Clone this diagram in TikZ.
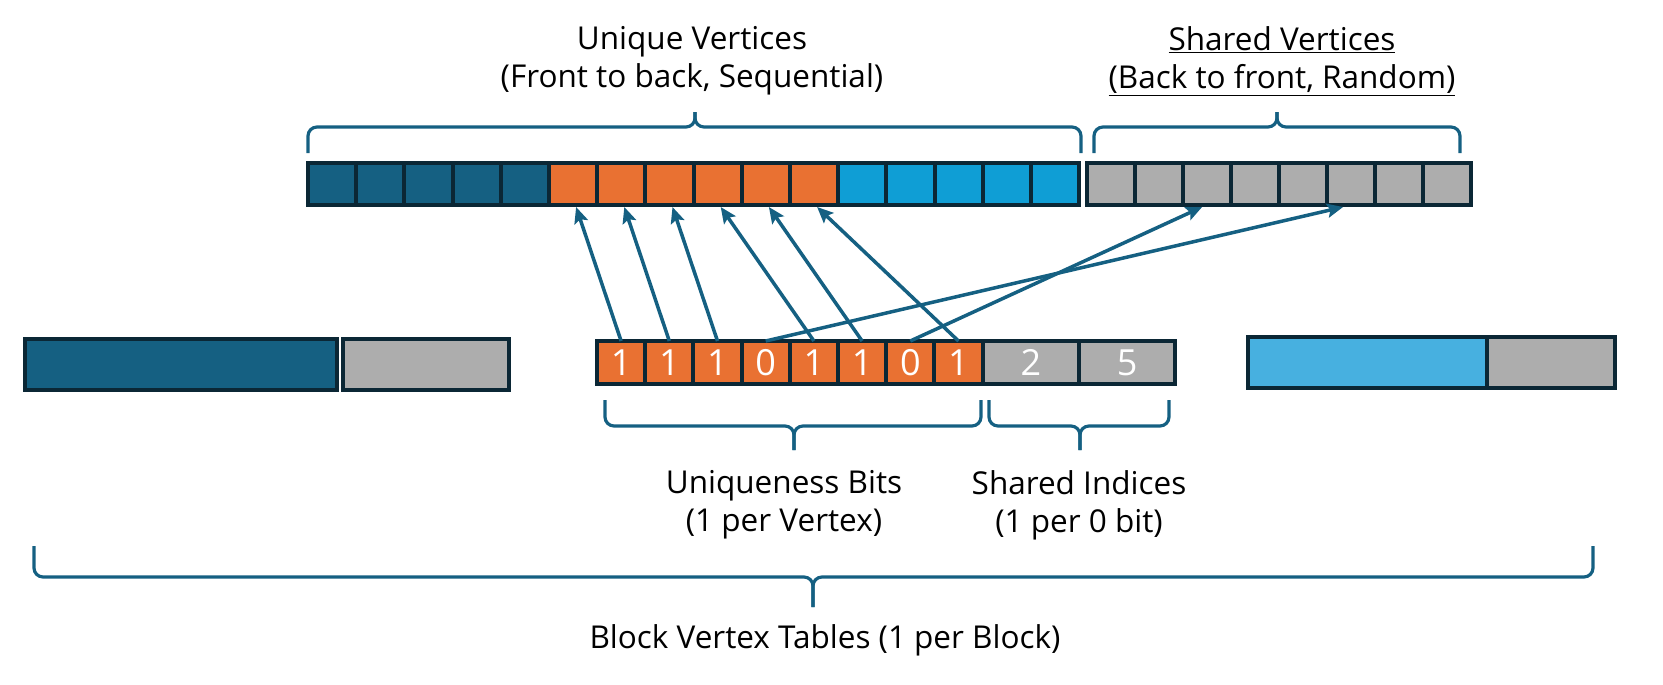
\documentclass[tikz,border=0pt]{standalone}
\usepackage{fontspec}
\setmainfont{Open Sans}
\usetikzlibrary{positioning,arrows.meta,calc}
\definecolor{cteal}{HTML}{156082}
\definecolor{corange}{HTML}{E97132}
\definecolor{csky}{HTML}{0F9ED5}
\definecolor{csky2}{HTML}{47B0E0}
\definecolor{cgray}{HTML}{ADADAD}
\definecolor{cline}{HTML}{0B2735}

\begin{document}
\begin{tikzpicture}[x=1pt, y=-1pt,
  every node/.style={inner sep=0pt, outer sep=0pt, font=\fontsize{31.5}{38}\selectfont},
  cellbox/.style={draw=cline, line width=4pt, minimum width=48.2pt, minimum height=42pt, anchor=north west},
  bitcell/.style={cellbox, minimum height=43pt, text=white, font=\fontsize{36}{40}\selectfont},
  blockbox/.style={draw=cline, line width=4pt, minimum height=51pt, anchor=north west},
  ptr/.style={draw=cteal, line width=3.5pt, -{Stealth[length=16pt,width=14pt,inset=3pt]}},
  bracepath/.style={draw=cteal, line width=3.2pt, rounded corners=9pt}]
  \useasboundingbox (0,0) rectangle (1663,685);

  % top row: unique vertices, then shared vertices
  \foreach \i in {0,...,15} {
    \ifnum\i<5 \def\fillcol{cteal}\else\ifnum\i<11 \def\fillcol{corange}\else\def\fillcol{csky}\fi\fi
    \node[cellbox, fill=\fillcol] (u\i) at ({308+48.2*\i},163) {};
  }
  \foreach \i in {0,...,7}
    \node[cellbox, fill=cgray] (s\i) at ({1087+48*\i},163) {};

  % one block vertex table: bits + shared indices
  \foreach \b [count=\i from 0] in {1,1,1,0,1,1,0,1}
    \node[bitcell, fill=corange] (b\i) at ({597+48.2*\i},341) {\b};
  \node[bitcell, fill=cgray, minimum width=96.4pt, right=0pt of b7] (x0) {2};
  \node[bitcell, fill=cgray, minimum width=96.4pt, right=0pt of x0] (x1) {5};

  % neighbouring tables
  \node[blockbox, fill=cteal, minimum width=312pt] (lblk) at (25,339) {};
  \node[blockbox, fill=cgray, minimum width=166pt] (lidx) at (343,339) {};
  \node[blockbox, fill=csky2, minimum width=238.5pt] (rblk) at (1248,337) {};
  \node[blockbox, fill=cgray, minimum width=128.5pt, right=0pt of rblk] (ridx) {};

  % pointers
  \foreach \s/\d in {0/5,1/6,2/7,4/8,5/9,7/10}
    \draw[ptr] (b\s.north) -- ([xshift=3pt,yshift=-2pt]u\d.south);
  \draw[ptr] (b3.north) -- ([xshift=-8pt,yshift=-2pt]s5.south);
  \draw[ptr] (b6.north) -- ([xshift=-5pt,yshift=-2pt]s2.south);

  % braces
  \foreach \lx/\rx/\mx/\ye/\yh/\yt in {308/1081/695/153/127/112, 1094/1460/1277/153/127/112,
      605/981/794/400/426/450, 989/1169/1080/400/426/450, 34/1593/813/546/577/607} {
    \draw[bracepath] (\lx,\ye) |- (\mx,\yh) -- (\mx,\yt);
    \draw[bracepath] (\rx,\ye) |- (\mx,\yh) -- (\mx,\yt);
  }

  \node[align=center] (uvlbl) at (692,61) {Unique Vertices\\(Front to back, Sequential)};
  \node[align=center] (svlbl) at (1282,61) {\underline{Shared Vertices}\\\underline{(Back to front, Random)}};
  \node[align=center] (ublbl) at (784,505) {Uniqueness Bits\\(1 per Vertex)};
  \node[align=center] (silbl) at (1079,505) {Shared Indices\\(1 per 0 bit)};
  \node (btlbl) at (825,640) {Block Vertex Tables (1 per Block)};
\end{tikzpicture}
\end{document}
